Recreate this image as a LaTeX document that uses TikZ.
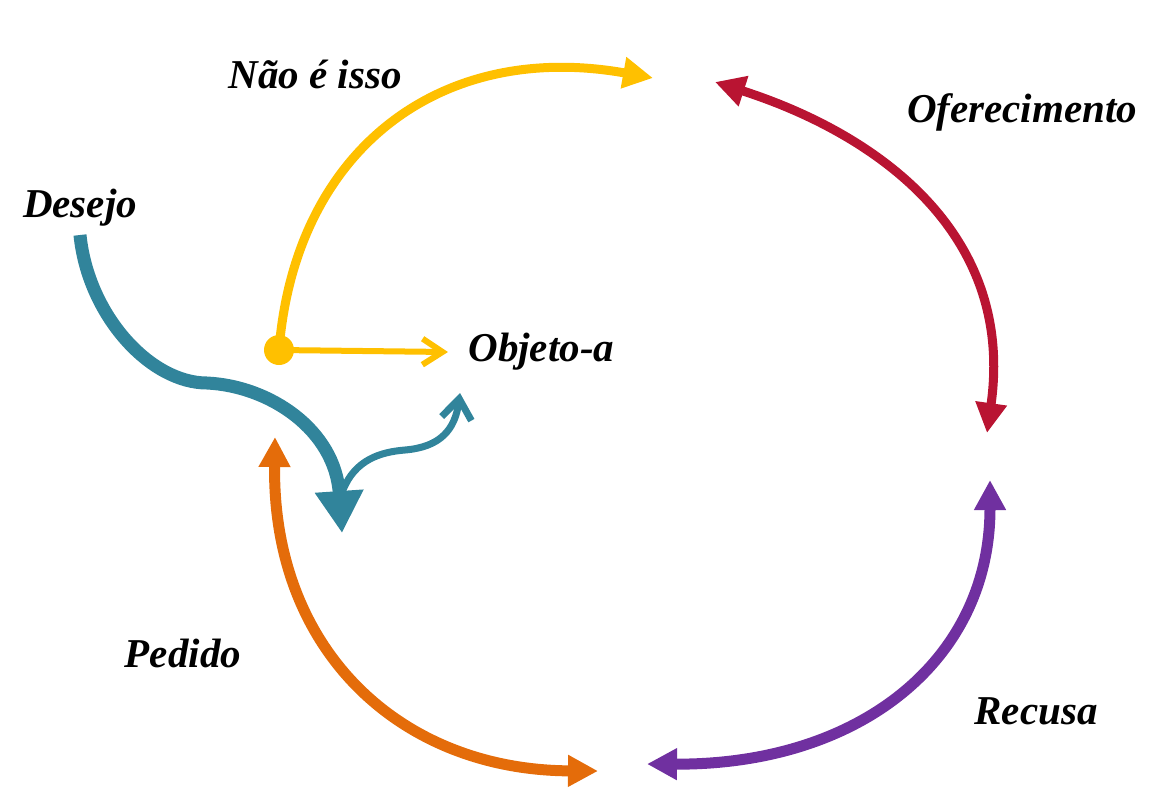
\documentclass[tikz,border=0pt]{standalone}
\usepackage{fontspec}
\setmainfont{Liberation Serif}
\usetikzlibrary{arrows.meta,positioning}
\definecolor{ouro}{HTML}{FFC000}
\definecolor{carmim}{HTML}{B91432}
\definecolor{laranja}{HTML}{E46C0A}
\definecolor{roxo}{HTML}{7030A0}
\definecolor{petroleo}{HTML}{31849B}
\newcommand{\ponta}{Triangle[length=15pt,width=15pt]}
\begin{document}
\begin{tikzpicture}[x=0.5pt,y=-0.5pt,
  rotulo/.style={font=\fontsize{20.5}{24}\selectfont\bfseries\itshape,inner sep=0pt,anchor=base}]
      \useasboundingbox (0,0) rectangle (1166,810);
      \coordinate (ponto) at (279,350);
      \coordinate (objeto) at (448,352);
      \coordinate (topo-e) at (653,78);
      \coordinate (topo-d) at (715,82);
      \coordinate (dir-a) at (987,433);
      \coordinate (dir-b) at (990,480);
      \coordinate (baixo-d) at (647,764);
      \coordinate (baixo-e) at (598,771);
      \coordinate (esq) at (275,437);
      \coordinate (desejo-ini) at (80,235);
      \coordinate (desejo-fim) at (342,533);
      \coordinate (ramo) at (343,490);
      \coordinate (ramo-fim) at (460,393);
      \draw[ouro,line width=4.5pt,-{\ponta}] (ponto) .. controls (295,150) and (440,40) .. (topo-e);
      \draw[ouro,line width=3pt,-{Straight Barb[length=10pt,width=13pt]}] (ponto) -- (objeto);
      \draw[carmim,line width=4.5pt,{\ponta}-{\ponta}] (topo-d) .. controls (880,135) and (1015,235) .. (dir-a);
      \draw[roxo,line width=5.5pt,{\ponta}-{\ponta}] (baixo-d) .. controls (860,765) and (990,660) .. (dir-b);
      \draw[laranja,line width=5.5pt,{\ponta}-{\ponta}] (esq) .. controls (272,650) and (400,770) .. (baixo-e);
      \draw[petroleo,line width=3.5pt,-{Straight Barb[length=10pt,width=15pt]}] (ramo) .. controls (355,460) and (380,452) .. (405,450)
        .. controls (440,447) and (455,430) .. (ramo-fim);
      \draw[petroleo,line width=6.5pt,-{Triangle[length=21pt,width=23pt]}] (desejo-ini) .. controls (88,315) and (150,383) .. (207,383)
        .. controls (270,386) and (335,430) .. (desejo-fim);
      \fill[ouro] (ponto) circle (7.5pt);
      \node[rotulo] (nao) at (315,88) {Não é isso};
      \node[rotulo] (oferta) at (1022,122) {Oferecimento};
      \node[rotulo] (desejo) at (80,217) {Desejo};
      \node[rotulo,anchor=west,right=10pt of objeto] (obj) {Objeto-a};
      \node[rotulo] (pedido) at (183,667) {Pedido};
      \node[rotulo] (recusa) at (1036,724) {Recusa};
\end{tikzpicture}
\end{document}
